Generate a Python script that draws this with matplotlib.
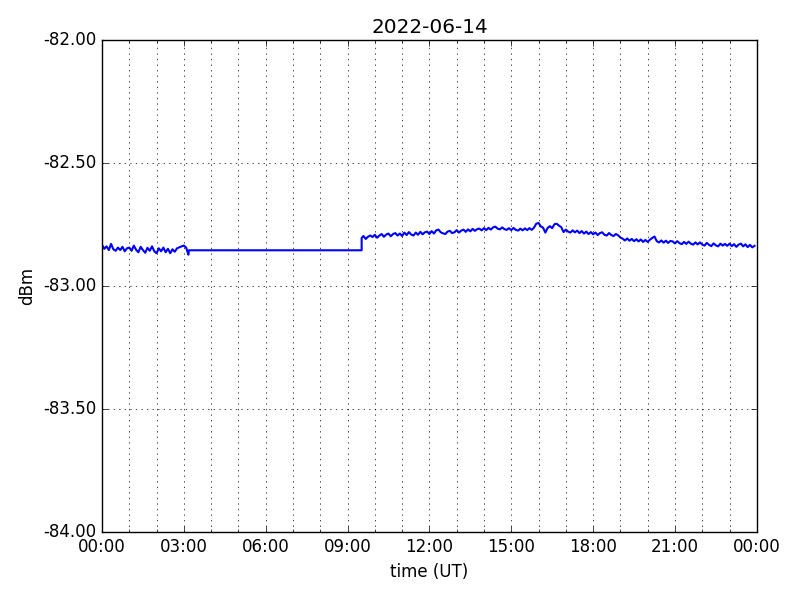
import numpy as np
import pandas as pd
import matplotlib
matplotlib.use("Agg")
import matplotlib.pyplot as plt
import matplotlib.dates as mdates
from matplotlib.ticker import FormatStrFormatter

plt.style.use("classic")

day = "2022-06-14"

# 5-minute samples, 00:00 - 03:05
night_vals = [
    -82.832, -82.848, -82.838, -82.853, -82.828, -82.850, -82.856, -82.843, -82.853, -82.840, -82.858, -82.846,
    -82.843, -82.856, -82.835, -82.852, -82.862, -82.840, -82.853, -82.864, -82.844, -82.856, -82.838, -82.858,
    -82.866, -82.846, -82.858, -82.843, -82.862, -82.848, -82.866, -82.850, -82.860, -82.846, -82.842, -82.838,
    -82.835, -82.843,
]
# dropout: last sample before the gap and first after it
gap_times = ["03:10", "03:11", "09:31"]
gap_vals = [-82.872, -82.854, -82.854]

# 5-minute samples, 09:31 - 24:00
day_vals = [
    -82.804, -82.796, -82.808, -82.799, -82.794,
    -82.800, -82.791, -82.803, -82.794, -82.788, -82.799, -82.790, -82.786, -82.797, -82.788, -82.784, -82.794,
    -82.786, -82.796, -82.782, -82.792, -82.780, -82.790, -82.794, -82.782, -82.791, -82.779, -82.789, -82.781,
    -82.778, -82.788, -82.776, -82.786, -82.773, -82.770, -82.781, -82.785, -82.788, -82.778, -82.775, -82.784,
    -82.781, -82.772, -82.782, -82.774, -82.770, -82.779, -82.769, -82.777, -82.767, -82.775, -82.768, -82.766,
    -82.773, -82.764, -82.772, -82.763, -82.770, -82.761, -82.758, -82.766, -82.769, -82.761, -82.768, -82.771,
    -82.764, -82.772, -82.763, -82.771, -82.774, -82.766, -82.773, -82.765, -82.772, -82.764, -82.771, -82.762,
    -82.746, -82.743, -82.757, -82.762, -82.782, -82.763, -82.756, -82.764, -82.748, -82.746, -82.754, -82.760,
    -82.780, -82.770, -82.778, -82.782, -82.773, -82.781, -82.774, -82.784, -82.776, -82.786, -82.778, -82.788,
    -82.780, -82.789, -82.782, -82.792, -82.784, -82.781, -82.791, -82.794, -82.784, -82.792, -82.796, -82.788,
    -82.793, -82.802, -82.807, -82.814, -82.806, -82.815, -82.808, -82.817, -82.809, -82.818, -82.810, -82.820,
    -82.812, -82.820, -82.811, -82.804, -82.798, -82.817, -82.822, -82.814, -82.823, -82.815, -82.824, -82.816,
    -82.818, -82.826, -82.817, -82.825, -82.829, -82.820, -82.828, -82.819, -82.827, -82.831, -82.822, -82.830,
    -82.822, -82.831, -82.835, -82.824, -82.832, -82.837, -82.826, -82.834, -82.838, -82.827, -82.835, -82.828,
    -82.836, -82.827, -82.837, -82.829, -82.840, -82.831, -82.827, -82.838, -82.830, -82.841, -82.832, -82.842,
    -82.836,
]

t_night = pd.date_range(day + " 00:00", periods=len(night_vals), freq="5min")
t_gap = pd.to_datetime([day + " " + s for s in gap_times])
t_day = pd.to_datetime([day + " 09:31"]).append(
    pd.date_range(day + " 09:35", periods=len(day_vals) - 1, freq="5min"))

times = t_night.append(t_gap).append(t_day)
vals = np.array(night_vals + gap_vals + day_vals)

fig = plt.figure(figsize=(8, 6), dpi=100, facecolor="white")
ax = fig.add_subplot(111)
fig.subplots_adjust(left=0.1275, right=0.946, top=0.933, bottom=0.113)

ax.plot(times, vals, "b-", lw=1.5)

start = pd.Timestamp(day)
ax.set_xlim(start, start + pd.Timedelta(days=1))
ax.set_ylim(-84, -82)
ax.xaxis.set_major_locator(mdates.HourLocator(byhour=range(0, 24, 3)))
ax.xaxis.set_minor_locator(mdates.HourLocator())
ax.xaxis.set_major_formatter(mdates.DateFormatter("%H:%M"))
ax.yaxis.set_major_locator(plt.MultipleLocator(0.5))
ax.yaxis.set_major_formatter(FormatStrFormatter("%.2f"))

ax.grid(True, which="major", axis="both")
ax.grid(True, which="minor", axis="x")

ax.set_title(day)
ax.set_xlabel("time (UT)")
ax.set_ylabel("dBm")

fig.savefig("out.png", dpi=100, facecolor="white")
